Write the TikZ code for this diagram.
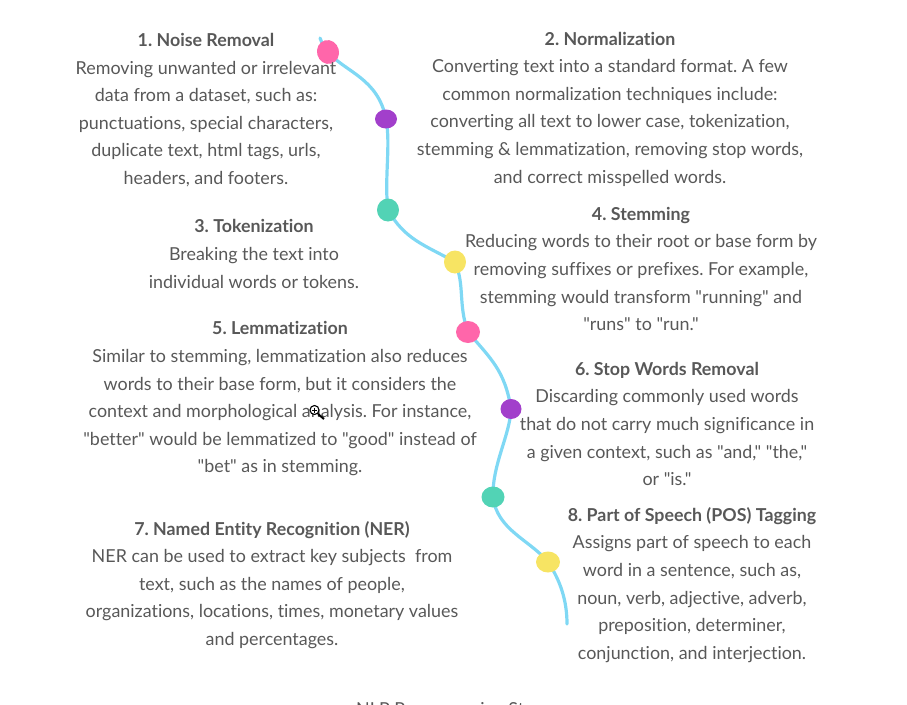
\documentclass[tikz,border=0pt]{standalone}
\usepackage{fontspec}
\setmainfont{Lato}[Ligatures={TeXOff,NoCommon}]
\usetikzlibrary{shapes.geometric,backgrounds}
\definecolor{txt}{HTML}{585858}
\definecolor{curve}{HTML}{7FD8F4}
\definecolor{pinkd}{HTML}{FF66AA}
\definecolor{purpd}{HTML}{A23FCB}
\definecolor{teald}{HTML}{52D3B5}
\definecolor{yelld}{HTML}{F7E463}
\newcommand{\hd}[1]{{\fontsize{17.8}{27.6}\selectfont\textbf{#1}}}
\tikzset{
 textblock/.style={text=txt,align=center,inner sep=0pt,font=\fontsize{17.9}{27.6}\selectfont\frenchspacing},
 dot/.style={ellipse,inner sep=0pt,fill=#1},
 wavy/.style={draw=curve,line width=3.2pt,line cap=round}
}
\begin{document}
\begin{tikzpicture}[x=1pt,y=-1pt]
\useasboundingbox (0,0) rectangle (907,704);
\clip (0,0) rectangle (907,704);
\coordinate (top) at (320,38);
\coordinate (bottom) at (567,624);
\node[dot=pinkd,minimum width=22pt,minimum height=24pt,rotate=15] (d1) at (328,52) {};
\node[dot=purpd,minimum width=22pt,minimum height=19pt] (d2) at (386,119) {};
\node[dot=teald,minimum width=22pt,minimum height=23pt] (d3) at (388,210) {};
\node[dot=yelld,minimum width=22pt,minimum height=23pt] (d4) at (455,262) {};
\node[dot=pinkd,minimum width=24pt,minimum height=22pt] (d5) at (468,332) {};
\node[dot=purpd,minimum width=21pt,minimum height=20pt] (d6) at (511,409) {};
\node[dot=teald,minimum width=23pt,minimum height=21pt] (d7) at (493,497) {};
\node[dot=yelld,minimum width=24pt,minimum height=21pt] (d8) at (548,562) {};
\begin{pgfonlayer}{background}
\draw[wavy] (top) .. controls (322,44) and (325,48) .. (d1.center);
\draw[wavy] (d1.center) .. controls (345,72) and (378,78) .. (d2.center);
\draw[wavy] (d2.center) .. controls (391,145) and (384,180) .. (d3.center);
\draw[wavy] (d3.center) .. controls (405,240) and (425,245) .. (d4.center);
\draw[wavy] (d4.center) .. controls (465,285) and (458,305) .. (d5.center);
\draw[wavy] (d5.center) .. controls (490,358) and (505,370) .. (d6.center);
\draw[wavy] (d6.center) .. controls (510,435) and (492,465) .. (d7.center);
\draw[wavy] (d7.center) .. controls (497,530) and (530,540) .. (d8.center);
\draw[wavy] (d8.center) .. controls (560,580) and (567,600) .. (bottom);
\end{pgfonlayer}
\node[textblock] (t1) at (206,110) {\hd{1. Noise Removal}\\Removing unwanted or irrelevant\\data from a dataset, such as:\\punctuations, special characters,\\duplicate text, html tags, urls,\\headers, and footers.};
\node[textblock] (t2) at (610,109) {\hd{2. Normalization}\\Converting text into a standard format. A few\\common normalization techniques include:\\converting all text to lower case, tokenization,\\stemming \& lemmatization, removing stop words,\\and correct misspelled words.};
\node[textblock] (t3) at (254,254) {\hd{3. Tokenization}\\Breaking the text into\\individual words or tokens.};
\node[textblock] (t4) at (641,269) {\hd{4. Stemming}\\Reducing words to their root or base form by\\removing suffixes or prefixes. For example,\\stemming would transform "running" and\\"runs" to "run."};
\node[textblock] (t5) at (280,399) {\hd{5. Lemmatization}\\Similar to stemming, lemmatization also reduces\\words to their base form, but it considers the\\context and morphological analysis. For instance,\\"better" would be lemmatized to "good" instead of\\"bet" as in stemming.};
\node[textblock] (t6) at (667,424) {\hd{6. Stop Words Removal}\\Discarding commonly used words\\that do not carry much significance in\\a given context, such as "and," "the,"\\or "is."};
\node[textblock] (t7) at (272,585) {\hd{7. Named Entity Recognition (NER)}\\NER can be used to extract key subjects\ \ from\\text, such as the names of people,\\organizations, locations, times, monetary values\\and percentages.};
\node[textblock] (t8) at (692,585) {\hd{8. Part of Speech (POS) Tagging}\\Assigns part of speech to each\\word in a sentence, such as,\\noun, verb, adjective, adverb,\\preposition, determiner,\\conjunction, and interjection.};
\node[text=txt,font=\fontsize{17.9}{20}\selectfont,inner sep=0pt,anchor=base west] (cap) at (356,715) {NLP Preprocessing Steps};
\draw[black,line width=2pt] (318,414) -- (324,419);
\draw[black,line width=1.1pt,fill=white] (314.5,410) circle (4.5pt);
\draw[black,line width=.8pt] (312,410) -- (317,410) (314.5,407.5) -- (314.5,412.5);
\end{tikzpicture}
\end{document}
